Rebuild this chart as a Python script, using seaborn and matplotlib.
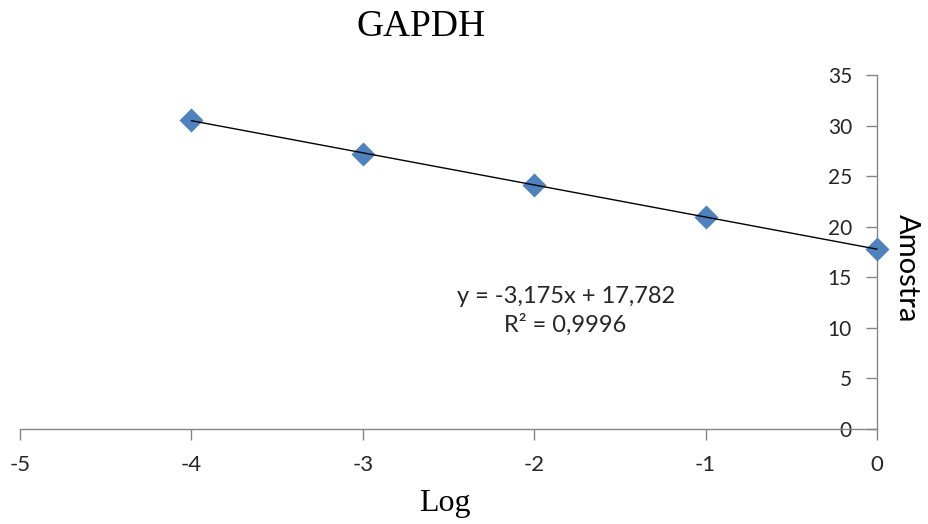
import matplotlib
matplotlib.use("Agg")
import matplotlib.pyplot as plt
import seaborn as sns
import numpy as np
import pandas as pd

# Standard curve data: log dilution vs Ct
log_dilution = [-4, -3, -2, -1, 0]
ct_values = [30.58, 27.2, 24.1, 21.0, 17.78]

# Linear trendline parameters and fit quality
slope = -3.175
intercept = 17.782
r_squared = 0.9996

x_ticks = [-5, -4, -3, -2, -1, 0]
y_ticks = [0, 5, 10, 15, 20, 25, 30, 35]

sns.set_theme(style="white")
plt.rcParams["font.family"] = ["Lato", "DejaVu Sans"]

df = pd.DataFrame({"Log": log_dilution, "Amostra": ct_values})

fig = plt.figure(figsize=(9.29, 5.24), dpi=100)
ax = fig.add_axes([20 / 929, 1 - 429 / 524, (877 - 20) / 929, (429 - 75) / 524])

axis_color = "#868686"

sns.scatterplot(data=df, x="Log", y="Amostra", ax=ax, marker="D", s=150,
                color="#4F81BD", edgecolor="#4F81BD", linewidth=0, zorder=3,
                clip_on=False)

# Trendline over the data range
xl = np.array([min(log_dilution), max(log_dilution)])
ax.plot(xl, slope * xl + intercept, color="black", linewidth=1.0, zorder=4,
        clip_on=False)

ax.set_xlim(-5, 0)
ax.set_ylim(0, 35)
ax.set_xticks(x_ticks)
ax.set_yticks(y_ticks)
ax.set_xticklabels([str(t) for t in x_ticks])
ax.set_yticklabels([str(t) for t in y_ticks])

# Vertical axis crosses at x = 0 (right edge)
ax.spines["left"].set_position(("data", 0))
ax.spines["right"].set_visible(False)
ax.spines["top"].set_visible(False)
for s in ("left", "bottom"):
    ax.spines[s].set_color(axis_color)
    ax.spines[s].set_linewidth(1.0)

ax.tick_params(axis="x", direction="out", length=8, width=1, color=axis_color,
               pad=11, bottom=True, labelcolor="#262626", labelsize=16)
ax.tick_params(axis="y", direction="out", length=8, width=1, color=axis_color,
               pad=10, left=True, labelcolor="#262626", labelsize=15)
ax.set_xlabel("")
ax.set_ylabel("")
ax.grid(False)

fig.text(421 / 929, 1 - 27 / 524, "GAPDH", ha="center", va="center",
         family=["Liberation Serif"], fontsize=27, color="black")
fig.text(445 / 929, 1 - 504 / 524, "Log", ha="center", va="center",
         family=["Liberation Serif"], fontsize=23, color="black")
fig.text(907 / 929, 1 - 268 / 524, "Amostra", ha="center", va="center",
         rotation=270, fontsize=21, color="black")

def fmt(v, nd):
    return f"{v:.{nd}f}".replace(".", ",")

sign = "+" if intercept >= 0 else "-"
eq = f"y = {fmt(slope, 3)}x {sign} {fmt(abs(intercept), 3)}\nR² = {fmt(r_squared, 4)}"
ax.text(-1.817, 11.7, eq, ha="center", va="center", fontsize=17,
        color="#262626", linespacing=1.35)

fig.savefig("out.png", dpi=100, facecolor="white")
